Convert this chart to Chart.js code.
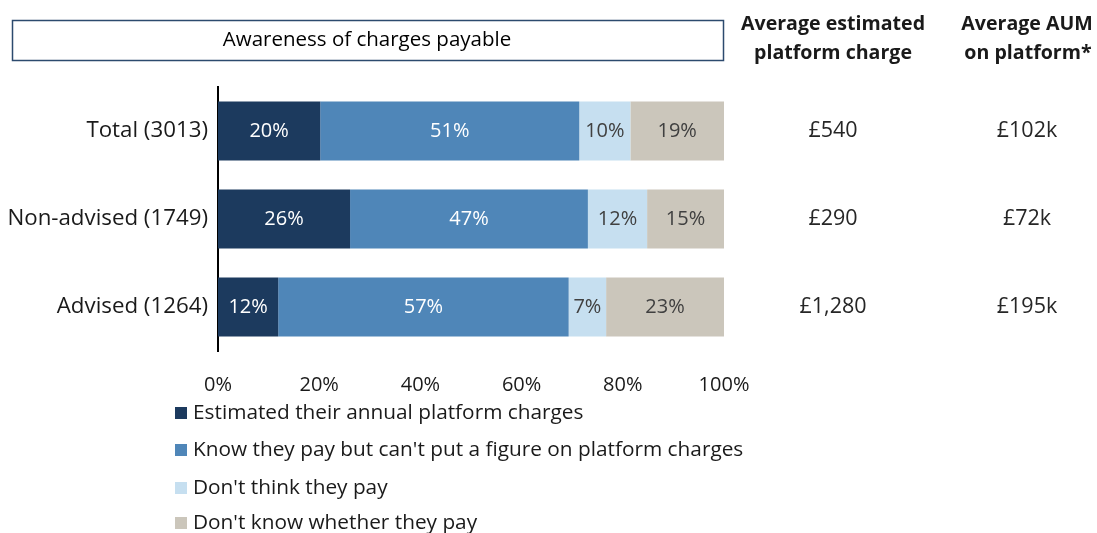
<!DOCTYPE html>
<html>
<head>
  <meta charset="utf-8">
  <title>Awareness of charges payable</title>
  <script src="https://cdn.jsdelivr.net/npm/chart.js"></script>
  <style>
    html, body { margin: 0; padding: 0; background: #fff; }
    canvas { display: block; }
  </style>
</head>
<body>
<canvas id="chart" width="1097" height="533"></canvas>
<script>
const categories = ['Total (3013)', 'Non-advised (1749)', 'Advised (1264)'];

const estimated  = [20.2, 26.1, 11.9];
const knowPay    = [51.2, 47.0, 57.4];
const dontThink  = [10.1, 11.7, 7.4];
const dontKnow   = [18.5, 15.2, 23.3];

const seriesNames = [
  'Estimated their annual platform charges',
  "Know they pay but can't put a figure on platform charges",
  "Don't think they pay",
  "Don't know whether they pay"
];
const seriesColors = ['#1c3a5e', '#4f86b8', '#c6dff0', '#cbc6bb'];
const labelColors  = ['#ffffff', '#ffffff', '#404040', '#404040'];

const avgCharge = ['£540', '£290', '£1,280'];
const avgAum    = ['£102k', '£72k', '£195k'];

const xTicks = [0, 20, 40, 60, 80, 100];

const FONT = '"Open Sans", Lato, sans-serif';

const extras = {
  id: 'extras',
  afterDatasetsDraw(chart) {
    const ctx = chart.ctx;
    ctx.save();
    // segment labels
    ctx.font = '20px ' + FONT;
    ctx.textAlign = 'center';
    ctx.textBaseline = 'middle';
    chart.data.datasets.forEach((ds, di) => {
      chart.getDatasetMeta(di).data.forEach((bar, i) => {
        const x = (bar.x + bar.base) / 2;
        ctx.fillStyle = labelColors[di];
        ctx.fillText(Math.round(ds.data[i]) + '%', x, bar.y);
      });
    });
    ctx.restore();
  },
  afterDraw(chart) {
    const ctx = chart.ctx;
    const y = chart.scales.y;
    ctx.save();

    // title box
    ctx.strokeStyle = '#2c4a6e';
    ctx.lineWidth = 1.5;
    ctx.strokeRect(12.5, 20.5, 711, 40);
    ctx.fillStyle = '#000';
    ctx.font = '20.5px ' + FONT;
    ctx.textAlign = 'center';
    ctx.textBaseline = 'middle';
    ctx.fillText('Awareness of charges payable', 367, 40);

    // side column headers
    ctx.font = 'bold 19.6px ' + FONT;
    ctx.fillStyle = '#1a1a1a';
    ctx.fillText('Average estimated', 833, 24);
    ctx.fillText('platform charge', 833, 53);
    ctx.fillText('Average AUM', 1027, 24);
    ctx.fillText('on platform*', 1028, 53);

    // side column values, aligned with the bars
    ctx.font = '21.5px ' + FONT;
    ctx.fillStyle = '#262626';
    categories.forEach((c, i) => {
      const py = y.getPixelForValue(i);
      ctx.fillText(avgCharge[i], 833, py);
      ctx.fillText(avgAum[i], 1027, py);
    });

    // legend
    ctx.textAlign = 'left';
    ctx.font = '20.8px ' + FONT;
    const legendY = [413, 450, 488, 523];
    seriesNames.forEach((name, i) => {
      ctx.fillStyle = seriesColors[i];
      ctx.fillRect(175, legendY[i] - 6, 12, 12);
      ctx.fillStyle = '#1a1a1a';
      ctx.fillText(name, 193, legendY[i]);
    });
    ctx.restore();
  }
};

const values = [estimated, knowPay, dontThink, dontKnow];

new Chart(document.getElementById('chart'), {
  type: 'bar',
  data: {
    labels: categories,
    datasets: values.map((d, i) => ({
      label: seriesNames[i],
      data: d,
      backgroundColor: seriesColors[i],
      borderWidth: 0,
      barPercentage: 0.67,
      categoryPercentage: 1.0
    }))
  },
  options: {
    indexAxis: 'y',
    responsive: false,
    animation: false,
    layout: { padding: { left: 0, right: 373, top: 87, bottom: 132 } },
    plugins: {
      legend: { display: false },
      tooltip: { enabled: false }
    },
    scales: {
      x: {
        stacked: true,
        min: 0,
        max: 100,
        afterBuildTicks: (scale) => { scale.ticks = xTicks.map(v => ({ value: v })); },
        afterFit: (scale) => { scale.height = 50; },
        grid: { display: false, drawTicks: false },
        border: { display: false },
        ticks: {
          padding: 22,
          color: '#1a1a1a',
          font: { size: 20, family: FONT },
          callback: (v) => v + '%'
        }
      },
      y: {
        stacked: true,
        afterFit: (scale) => { scale.width = 218; },
        grid: { display: false, drawTicks: false },
        border: { display: true, color: '#000', width: 2 },
        ticks: {
          padding: 10,
          color: '#1a1a1a',
          font: { size: 22.3, family: FONT }
        }
      }
    }
  },
  plugins: [extras]
});
</script>
</body>
</html>
